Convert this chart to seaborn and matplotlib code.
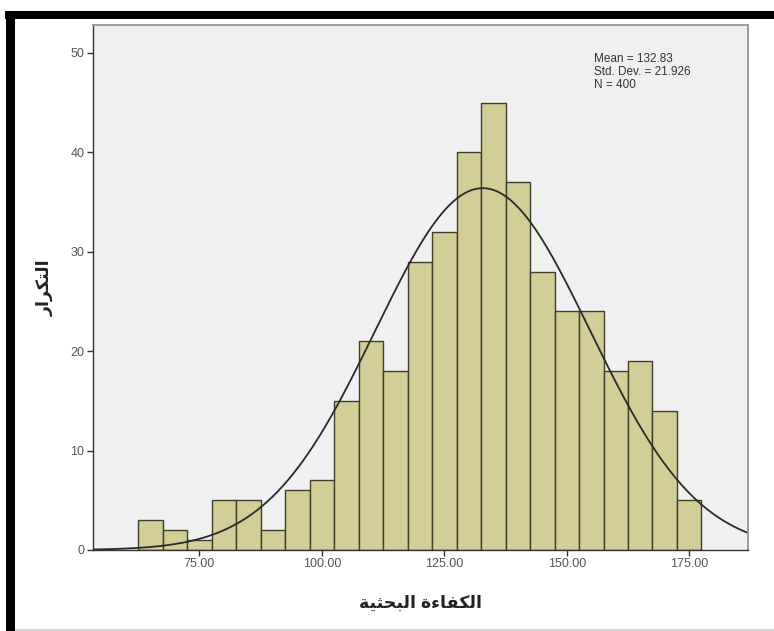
import numpy as np
import pandas as pd
import matplotlib
matplotlib.use("Agg")
import matplotlib.pyplot as plt
from matplotlib.patches import Rectangle
import seaborn as sns

# ---------------- data ----------------
bin_centers = [65, 70, 75, 80, 85, 90, 95, 100, 105, 110, 115, 120,
               125, 130, 135, 140, 145, 150, 155, 160, 165, 170, 175]
counts = [3, 2, 1, 5, 5, 2, 6, 7, 15, 21, 18, 29,
          32, 40, 45, 37, 28, 24, 24, 18, 19, 14, 5]
bin_width = 5
mean_val = 132.83
std_val = 21.926
n_total = 400
x_ticks = [75, 100, 125, 150, 175]
y_ticks = [0, 10, 20, 30, 40, 50]
x_label = "الكفاءة البحثية"
y_label = "التكرار"
stats_text = "Mean = 132.83\nStd. Dev. = 21.926\nN = 400"

# ---------------- minimal Arabic shaping (matplotlib has no CTL) ----------------
FORMS = {  # iso, fin, ini, med
    "\u0627": (0xFE8D, 0xFE8E, None, None),
    "\u0644": (0xFEDD, 0xFEDE, 0xFEDF, 0xFEE0),
    "\u062A": (0xFE95, 0xFE96, 0xFE97, 0xFE98),
    "\u0643": (0xFED9, 0xFEDA, 0xFEDB, 0xFEDC),
    "\u0631": (0xFEAD, 0xFEAE, None, None),
    "\u0641": (0xFED1, 0xFED2, 0xFED3, 0xFED4),
    "\u0621": (0xFE80, None, None, None),
    "\u0629": (0xFE93, 0xFE94, None, None),
    "\u0628": (0xFE8F, 0xFE90, 0xFE91, 0xFE92),
    "\u062D": (0xFEA1, 0xFEA2, 0xFEA3, 0xFEA4),
    "\u062B": (0xFE99, 0xFE9A, 0xFE9B, 0xFE9C),
    "\u064A": (0xFEF1, 0xFEF2, 0xFEF3, 0xFEF4),
}


def shape_ar(text):
    out = []
    for i, ch in enumerate(text):
        if ch not in FORMS:
            out.append(ch)
            continue
        f = FORMS[ch]
        prev = text[i - 1] if i > 0 else None
        nxt = text[i + 1] if i + 1 < len(text) else None
        c_prev = (prev in FORMS and FORMS[prev][2] is not None and f[1] is not None)
        c_next = (nxt in FORMS and f[2] is not None and FORMS[nxt][1] is not None)
        if c_prev and c_next:
            code = f[3]
        elif c_prev:
            code = f[1]
        elif c_next:
            code = f[2]
        else:
            code = f[0]
        out.append(chr(code))
    return "".join(out)[::-1]


# ---------------- figure ----------------
sns.set_theme(style="white")
plt.rcParams["font.family"] = ["Liberation Sans", "DejaVu Sans"]

W, H = 774, 631
fig = plt.figure(figsize=(W / 100, H / 100), dpi=100)
fig.patch.set_facecolor("white")
ax_l, ax_r, ax_t, ax_b = 92.7, 748.0, 25.0, 550.0
ax = fig.add_axes([ax_l / W, (H - ax_b) / H, (ax_r - ax_l) / W, (ax_b - ax_t) / H])
ax.set_facecolor("#F0F0F0")

df = pd.DataFrame({"score": bin_centers, "count": counts})
lo = bin_centers[0] - bin_width / 2
hi = bin_centers[-1] + bin_width / 2
sns.histplot(data=df, x="score", weights="count", binwidth=bin_width, binrange=(lo, hi),
             color="#D3CE97", edgecolor="#3e3e2a", linewidth=1.0, alpha=1.0, ax=ax)

xmin, xmax = 53.2, 187.0
xs = np.linspace(xmin, xmax, 500)
ys = n_total * bin_width / (std_val * np.sqrt(2 * np.pi)) * np.exp(-0.5 * ((xs - mean_val) / std_val) ** 2)
sns.lineplot(x=xs, y=ys, color="#2a2a2a", linewidth=1.3, ax=ax)

ax.set_xlim(xmin, xmax)
ax.set_ylim(0, 52.8)
ax.set_xticks(x_ticks)
ax.set_xticklabels([f"{v:.2f}" for v in x_ticks])
ax.set_yticks(y_ticks)
ax.set_yticklabels([str(v) for v in y_ticks])
ax.tick_params(axis="both", direction="out", length=4, width=1, color="#333333",
               labelcolor="#555555", labelsize=9, left=True, bottom=True, pad=2)

for s in ("left", "bottom"):
    ax.spines[s].set_color("#333333")
    ax.spines[s].set_linewidth(1.0)
for s in ("top", "right"):
    ax.spines[s].set_color("#9a9a9a")
    ax.spines[s].set_linewidth(1.4)

ax.set_xlabel(shape_ar(x_label), fontsize=12.5, fontweight="bold", color="#222222")
ax.xaxis.set_label_coords(0.5, -0.085)
ax.set_ylabel(shape_ar(y_label), fontsize=12.5, fontweight="bold", color="#222222")
ax.yaxis.set_label_coords(-0.060, 0.5)

ax.text((594 - ax_l) / (ax_r - ax_l), (ax_b - 53) / (ax_b - ax_t), stats_text,
        transform=ax.transAxes, ha="left", va="top", fontsize=8.5, color="#333333",
        linespacing=1.1)

# frame decorations of the original screenshot
fig.add_artist(Rectangle((5 / W, 1 - 19 / H), 1, 8 / H, transform=fig.transFigure,
                         color="black", lw=0))
fig.add_artist(Rectangle((6 / W, 0), 9 / W, (H - 11) / H, transform=fig.transFigure,
                         color="black", lw=0))
fig.add_artist(Rectangle((15 / W, 0), 1, 2 / H, transform=fig.transFigure,
                         color="#d8d8d8", lw=0))

fig.savefig("out.png", dpi=100)
